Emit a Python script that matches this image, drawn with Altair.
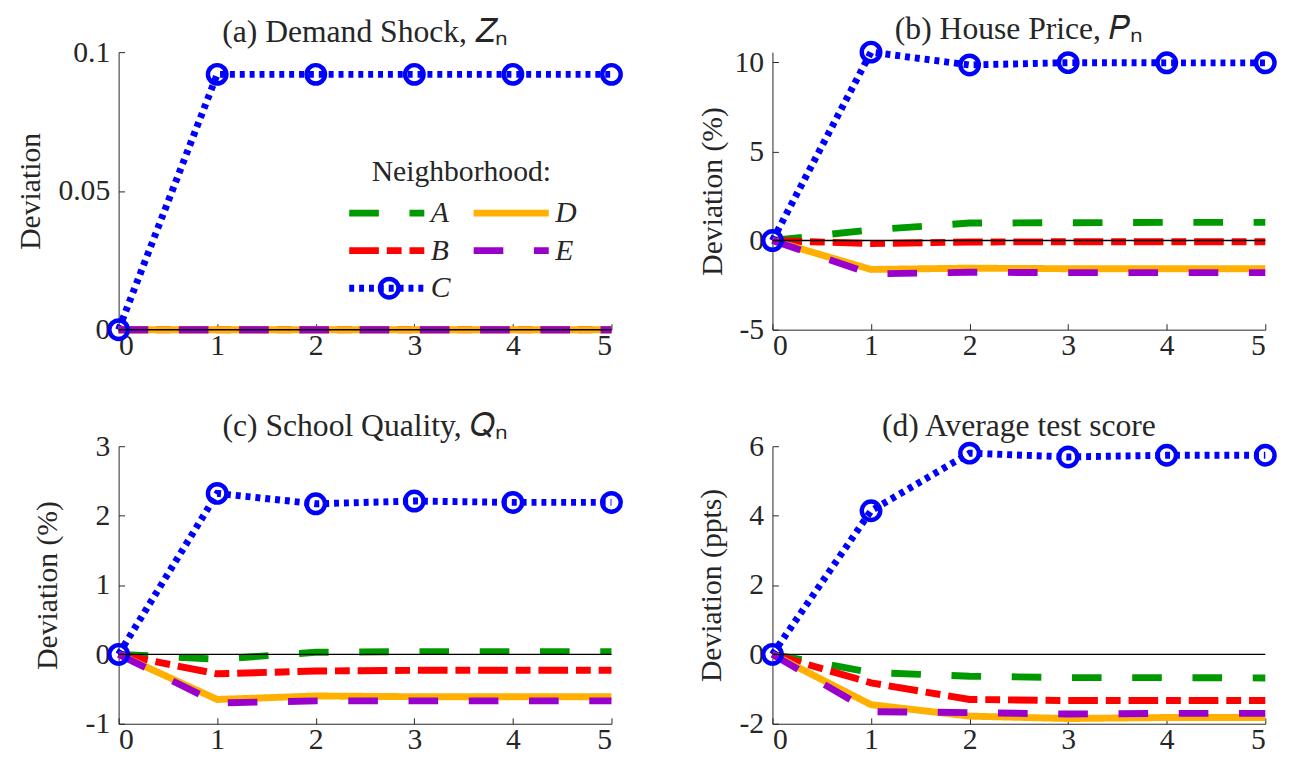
import altair as alt
import pandas as pd

# ---------------- data ----------------
periods = [0, 1, 2, 3, 4, 5]
series_names = ["A", "B", "C", "D", "E"]

# (a) Demand shock
a_A = [0, 0, 0, 0, 0, 0]
a_B = [0, 0, 0, 0, 0, 0]
a_C = [0, 0.092, 0.092, 0.092, 0.092, 0.092]
a_D = [0, 0, 0, 0, 0, 0]
a_E = [0, 0, 0, 0, 0, 0]

# (b) House price (%)
b_A = [0, 0.6, 0.98, 1.0, 1.02, 1.02]
b_B = [0, -0.17, -0.08, -0.07, -0.07, -0.07]
b_C = [0, 10.57, 9.85, 9.98, 9.97, 9.97]
b_D = [0, -1.62, -1.55, -1.58, -1.58, -1.58]
b_E = [0, -1.87, -1.78, -1.8, -1.8, -1.8]

# (c) School quality (%)
c_A = [0, -0.07, 0.03, 0.04, 0.04, 0.04]
c_B = [0, -0.28, -0.24, -0.23, -0.23, -0.23]
c_C = [0, 2.32, 2.17, 2.21, 2.19, 2.19]
c_D = [0, -0.65, -0.6, -0.61, -0.61, -0.61]
c_E = [0, -0.7, -0.67, -0.67, -0.67, -0.67]

# (d) Average test score (ppts)
d_A = [0, -0.52, -0.63, -0.67, -0.67, -0.68]
d_B = [0, -0.82, -1.3, -1.33, -1.33, -1.33]
d_C = [0, 4.14, 5.8, 5.69, 5.74, 5.74]
d_D = [0, -1.45, -1.78, -1.85, -1.82, -1.82]
d_E = [0, -1.65, -1.68, -1.72, -1.7, -1.7]

# ---------------- styling ----------------
FONT = "Liberation Serif"
TXT = "#262626"
legend_order = ["A", "B", "C", "D", "E"]
color_map = {"A": "#009900", "B": "#ff0000", "C": "#0000ff", "D": "#ffb000", "E": "#9900cc"}
dash_map = {"A": [30, 31], "B": [30, 8, 15, 8], "C": [5, 5], "D": [1, 0], "E": [30, 31]}
width_map = {"A": 7, "B": 7, "C": 5, "D": 7, "E": 7}
shape_map = {"A": "M0,0", "B": "M0,0", "C": "circle", "D": "M0,0", "E": "M0,0"}


def long_df(cols):
    rows = []
    for s, vals in zip(series_names, cols):
        for t, v in zip(periods, vals):
            rows.append({"t": t, "v": v, "s": s, "m": s})
    return pd.DataFrame(rows)


def ylabel_expr():
    return "datum.value < 0 ? '-' + format(-datum.value, '~g') : format(datum.value, '~g')"


def panel(cols, title, ytitle, ydomain, yticks, show_legend, title_pad):
    df = long_df(cols)
    base = alt.Chart(df)
    xscale = alt.Scale(domain=[0, 5], nice=False, zero=False)
    yscale = alt.Scale(domain=ydomain, nice=False, zero=False)
    xenc = alt.X("t:Q", scale=xscale,
                 axis=alt.Axis(orient="bottom", values=periods, format="d", title=None,
                               labelPadding=1))
    yenc = alt.Y("v:Q", scale=yscale,
                 axis=alt.Axis(orient="left", values=yticks, labelExpr=ylabel_expr(),
                               title=ytitle, titlePadding=title_pad))

    leg1 = None
    leg2 = None
    if show_legend:
        common = dict(orient="none", columns=2, direction="vertical",
                      titleAnchor="middle", titlePadding=12, titleLimit=400, clipHeight=30,
                      rowPadding=8, columnPadding=19, labelOffset=3, padding=0, legendY=106)
        leg1 = alt.Legend(title="Neighborhood:", symbolType="stroke", symbolSize=5776,
                          symbolStrokeWidth=7, legendX=230, **common)
        leg2 = alt.Legend(title=" ", symbolSize=350, symbolStrokeWidth=4.5,
                          symbolStrokeColor="#0000ff", symbolFillColor="transparent",
                          labelExpr="''", legendX=259, **common)

    lines = base.mark_line(strokeCap="butt", strokeJoin="miter").encode(
        x=xenc,
        y=yenc,
        color=alt.Color("s:N", scale=alt.Scale(domain=legend_order,
                                               range=[color_map[k] for k in legend_order]),
                        legend=leg1),
        strokeDash=alt.StrokeDash("s:N", scale=alt.Scale(domain=legend_order,
                                                         range=[dash_map[k] for k in legend_order]),
                                  legend=leg1),
        strokeWidth=alt.StrokeWidth("s:N", scale=alt.Scale(domain=legend_order,
                                                           range=[width_map[k] for k in legend_order]),
                                    legend=None),
    )
    pts = base.transform_filter(alt.datum.s == "C").mark_point(
        filled=False, size=350, strokeWidth=4.5, opacity=1, color="#0000ff"
    ).encode(
        x=alt.X("t:Q", scale=xscale, axis=None),
        y=alt.Y("v:Q", scale=yscale, axis=None),
        shape=alt.Shape("m:N", scale=alt.Scale(domain=legend_order,
                                               range=[shape_map[k] for k in legend_order]),
                        legend=leg2),
    )
    # zero reference line; its layer also carries the inward-pointing tick marks
    zero = alt.Chart(pd.DataFrame({"z": [0]})).mark_rule(color="black", strokeWidth=1.5).encode(
        x=alt.X(datum=0, scale=xscale,
                axis=alt.Axis(orient="bottom", offset=-6, values=periods, labels=False,
                              domain=False, ticks=True, tickSize=6, tickColor=TXT,
                              title=None)),
        x2=alt.datum(5),
        y=alt.Y(datum=0, scale=yscale,
                axis=alt.Axis(orient="left", offset=-6, values=yticks, labels=False,
                              domain=False, ticks=True, tickSize=6, tickColor=TXT,
                              title=None)),
    )
    return alt.layer(lines, pts, zero).resolve_legend(
        color="independent", strokeDash="independent", shape="independent"
    ).resolve_axis(x="independent", y="independent").properties(
        width=499, height=281,
        title=alt.TitleParams(title, anchor="middle", offset=-12),
    )


pa = panel([a_A, a_B, a_C, a_D, a_E], "(a) Demand Shock, \U0001D44D\u2099", "Deviation",
           [0, 0.1], [0, 0.05, 0.1], True, 13)
pb = panel([b_A, b_B, b_C, b_D, b_E], "(b) House Price, \U0001D443\u2099", "Deviation (%)",
           [-5, 10.57], [-5, 0, 5, 10], False, 7)
pc = panel([c_A, c_B, c_C, c_D, c_E], "(c) School Quality, \U0001D444\u2099", "Deviation (%)",
           [-1, 3], [-1, 0, 1, 2, 3], False, 23)
pd_ = panel([d_A, d_B, d_C, d_D, d_E], "(d) Average test score", "Deviation (ppts)",
            [-2, 6], [-2, 0, 2, 4, 6], False, 13)

chart = alt.concat(pa, pb, pc, pd_, columns=2, spacing={"row": 51, "column": 67}).resolve_scale(
    color="independent", strokeDash="independent", shape="independent", strokeWidth="independent"
).resolve_legend(
    color="independent", strokeDash="independent", shape="independent"
).properties(
    padding={"left": 7, "top": 0, "right": 5, "bottom": 0}
).configure_view(stroke=None).configure_axis(
    labelFont=FONT, titleFont=FONT, labelFontSize=30, titleFontSize=30,
    labelColor=TXT, titleColor=TXT, domainColor=TXT, domainWidth=1,
    grid=False, ticks=False, labelPadding=9, titleFontWeight="normal",
).configure_title(
    font=FONT, fontSize=32, fontWeight="normal", color=TXT,
).configure_legend(
    labelFont=FONT, titleFont=FONT, labelFontSize=30, titleFontSize=30,
    titleFontWeight="normal", labelFontStyle="italic", labelColor=TXT, titleColor=TXT,
)

chart.save("out.html", embed_options={"renderer": "svg", "actions": False})
